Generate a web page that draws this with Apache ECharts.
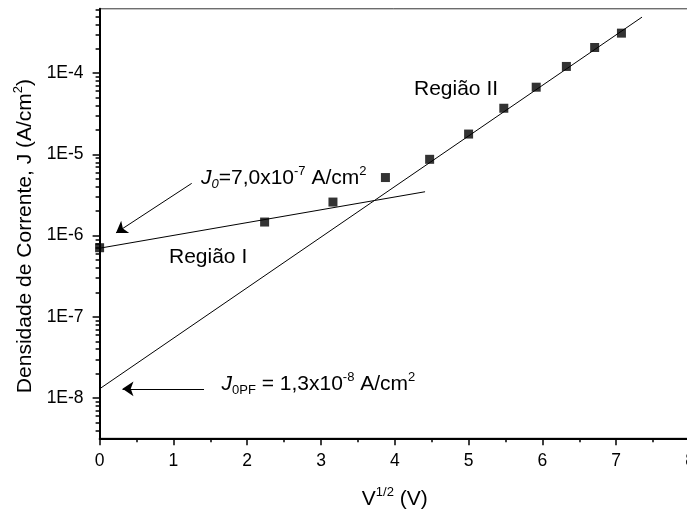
<!DOCTYPE html>
<html>
<head>
<meta charset="utf-8">
<title>Densidade de Corrente x V^1/2</title>
<script src="https://cdn.jsdelivr.net/npm/echarts@6/dist/echarts.min.js"></script>
<style>
  html, body { margin: 0; padding: 0; background: #ffffff; }
  #chart { width: 687px; height: 509px; }
</style>
</head>
<body>
<div id="chart"></div>
<script>
// Measured points: square root of the applied voltage vs. current density
const sqrtVoltage = [0, 2.236, 3.162, 3.873, 4.472, 5.000, 5.477, 5.916, 6.325, 6.708, 7.071];
const currentDensity = [7.1e-7, 1.47e-6, 2.59e-6, 5.19e-6, 8.7e-6, 1.78e-5, 3.7e-5, 6.72e-5, 1.21e-4, 2.07e-4, 3.11e-4];

// Fitted straight lines (in log J) for the two conduction regions
const J0 = 7.0e-7;          // intercept of region I
const J0PF = 1.3e-8;        // intercept of region II (Poole-Frenkel)
const fitRegionI_x = [0, 4.41];
const fitRegionI_J = [J0, 3.47e-6];
const fitRegionII_x = [0, 7.35];
const fitRegionII_J = [J0PF, 4.9e-4];

// Arrow annotations (data coordinates)
const arrowJ0_x = [1.248, 0.222];
const arrowJ0_J = [4.4e-6, 1.08e-6];
const arrowJ0PF_x = [1.415, 0.31];
const arrowJ0PF_J = [J0PF, J0PF];

// Axes
const xRange = [0, 8];
const xTickStep = 1;
const jRange = [3.2e-9, 6.2e-4];
const yDecadeExponents = [-8, -7, -6, -5, -4];
const yTickLabels = ['1E-8', '1E-7', '1E-6', '1E-5', '1E-4'];

const FONT = '"Liberation Sans", Arial, Helvetica, sans-serif';

const logMin = Math.log10(jRange[0]);
const logMax = Math.log10(jRange[1]);

// minor ticks of the log axis at 2..9 x 10^n
const minorTickLogs = [];
for (let e = -10; e <= -3; e++) {
  for (let k = 2; k <= 9; k++) {
    const v = Math.log10(k) + e;
    if (v >= logMin && v <= logMax) minorTickLogs.push(v);
  }
}

const pairs = (xs, ys) => xs.map((x, i) => [x, ys[i]]);

const chart = echarts.init(document.getElementById('chart'), null, { renderer: 'canvas' });

const supRich = {
  t: { fontSize: 21, fontFamily: FONT, color: '#000', lineHeight: 26 },
  s: { fontSize: 13, fontFamily: FONT, color: '#000', lineHeight: 12, verticalAlign: 'top' }
};

const annotationRich = {
  j: { fontSize: 21, fontFamily: FONT, fontStyle: 'italic', fill: '#000', lineHeight: 26 },
  bi: { fontSize: 13, fontFamily: FONT, fontStyle: 'italic', fill: '#000', lineHeight: 12, verticalAlign: 'bottom' },
  b: { fontSize: 13, fontFamily: FONT, fill: '#000', lineHeight: 12, verticalAlign: 'bottom' },
  t: { fontSize: 21, fontFamily: FONT, fill: '#000', lineHeight: 26 },
  p: { fontSize: 13, fontFamily: FONT, fill: '#000', lineHeight: 12, verticalAlign: 'top' }
};

const arrowLine = (xs, ys) => ({
  silent: true,
  symbol: ['none', 'arrow'],
  symbolSize: 11,
  label: { show: false },
  lineStyle: { color: '#000', width: 1, type: 'solid' },
  emphasis: { disabled: true },
  data: [[{ coord: [xs[0], ys[0]] }, { coord: [xs[1], ys[1]] }]]
});

const option = {
  backgroundColor: '#ffffff',
  animation: false,
  grid: {
    left: 99.6, top: 8.8, right: -3, bottom: 70.7,
    outerBoundsMode: 'none',
    containLabel: false,
    show: true, borderColor: '#333', borderWidth: 1, backgroundColor: 'transparent'
  },
  xAxis: {
    type: 'value',
    min: xRange[0], max: xRange[1], interval: xTickStep,
    axisLine: { show: true, onZero: false, lineStyle: { color: '#000', width: 2 } },
    axisTick: { show: true, inside: false, length: 7, lineStyle: { color: '#000', width: 1.5 } },
    minorTick: { show: true, splitNumber: 2, length: 4, lineStyle: { color: '#000', width: 1.5 } },
    splitLine: { show: false },
    axisLabel: { fontSize: 17.5, fontFamily: FONT, color: '#000', margin: 14, hideOverlap: false },
    name: '{t|V}{s|1/2}{t| (V)}',
    nameLocation: 'middle',
    nameGap: 48,
    nameTextStyle: { rich: supRich }
  },
  yAxis: [
    {
      // log scale carrying the data
      type: 'log', logBase: 10, position: 'left',
      min: jRange[0], max: jRange[1],
      axisLine: { show: false }, axisTick: { show: false },
      axisLabel: { show: false }, splitLine: { show: false }
    },
    {
      // decades: axis line, major ticks, labels, title
      type: 'value', position: 'left',
      min: logMin, max: logMax,
      axisLine: { show: true, onZero: false, lineStyle: { color: '#000', width: 2 } },
      axisTick: { show: true, inside: false, length: 7, customValues: yDecadeExponents,
                  lineStyle: { color: '#000', width: 1.5 } },
      axisLabel: {
        customValues: yDecadeExponents,
        fontSize: 17.5, fontFamily: FONT, color: '#000', margin: 16,
        formatter: (v) => yTickLabels[yDecadeExponents.indexOf(Math.round(v))]
      },
      splitLine: { show: false },
      name: '{t|Densidade de Corrente, J (A/cm}{s|2}{t|)}',
      nameLocation: 'middle',
      nameGap: 52,
      nameTextStyle: { rich: supRich, padding: [0, 25, 0, 0] }
    },
    {
      // minor ticks 2..9 within each decade
      type: 'value', position: 'left',
      min: logMin, max: logMax,
      axisLine: { show: false },
      axisTick: { show: true, inside: false, length: 4, customValues: minorTickLogs,
                  lineStyle: { color: '#000', width: 1.5 } },
      axisLabel: { show: false },
      splitLine: { show: false }
    }
  ],
  series: [
    {
      name: 'Região I (ajuste)',
      type: 'line', yAxisIndex: 0,
      data: pairs(fitRegionI_x, fitRegionI_J),
      showSymbol: false, symbol: 'none',
      lineStyle: { color: '#000', width: 1 },
      silent: true, z: 2,
      markLine: arrowLine(arrowJ0_x, arrowJ0_J)
    },
    {
      name: 'Região II (ajuste)',
      type: 'line', yAxisIndex: 0,
      data: pairs(fitRegionII_x, fitRegionII_J),
      showSymbol: false, symbol: 'none',
      lineStyle: { color: '#000', width: 1 },
      silent: true, z: 2,
      markLine: arrowLine(arrowJ0PF_x, arrowJ0PF_J)
    },
    {
      name: 'J',
      type: 'scatter', yAxisIndex: 0,
      data: pairs(sqrtVoltage, currentDensity),
      symbol: 'rect', symbolSize: 9,
      itemStyle: { color: '#000' },
      z: 3
    }
  ],
  graphic: [
    {
      type: 'text', left: 414, top: 79,
      style: { text: 'Região II', font: '21px ' + FONT, fill: '#000' }
    },
    {
      type: 'text', left: 169, top: 246.5,
      style: { text: 'Região I', font: '21px ' + FONT, fill: '#000' }
    },
    {
      type: 'text', left: 201, top: 165,
      style: { text: '{j|J}{bi|0}{t|=7,0x10}{p|-7}{t| A/cm}{p|2}', rich: annotationRich }
    },
    {
      type: 'text', left: 221.5, top: 371,
      style: { text: '{j|J}{b|0PF}{t| = 1,3x10}{p|-8}{t| A/cm}{p|2}', rich: annotationRich }
    }
  ]
};

chart.setOption(option);
</script>
</body>
</html>
